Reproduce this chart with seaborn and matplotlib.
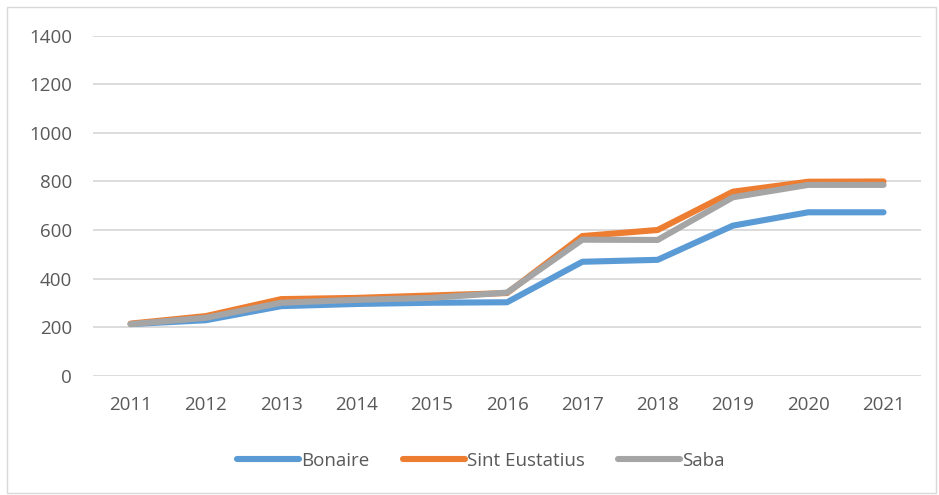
import matplotlib
matplotlib.use("Agg")
import matplotlib.pyplot as plt
import seaborn as sns
import pandas as pd
from matplotlib.patches import Rectangle
from matplotlib.lines import Line2D

years = [2011, 2012, 2013, 2014, 2015, 2016, 2017, 2018, 2019, 2020, 2021]
bonaire = [212, 228, 286, 295, 300, 302, 469, 477, 618, 673, 673]
sint_eustatius = [214, 245, 315, 320, 330, 340, 575, 600, 758, 799, 800]
saba = [212, 238, 300, 312, 320, 342, 560, 559, 735, 786, 786]
series_names = ["Bonaire", "Sint Eustatius", "Saba"]
colors = ["#5B9BD5", "#ED7D31", "#A5A5A5"]
yticks = [0, 200, 400, 600, 800, 1000, 1200, 1400]

df = pd.DataFrame({
    "year": years * 3,
    "value": bonaire + sint_eustatius + saba,
    "series": [series_names[0]] * len(years) + [series_names[1]] * len(years) + [series_names[2]] * len(years),
})

sns.set_theme(style="white")
plt.rcParams["font.family"] = ["Open Sans", "DejaVu Sans"]
text_color = "#595959"

fig = plt.figure(figsize=(9.39, 4.95), dpi=100)
ax = fig.add_axes([0.099, 0.2414, 0.882, 0.6859])

sns.lineplot(data=df, x="year", y="value", hue="series", hue_order=series_names,
             palette=colors, linewidth=4.4, ax=ax, legend=False,
             solid_capstyle="round", solid_joinstyle="round")

ax.set_xlim(years[0] - 0.5, years[-1] + 0.5)
ax.set_ylim(0, 1400)
ax.set_yticks(yticks)
ax.set_xticks(years)
ax.set_xticklabels([str(y) for y in years])
ax.set_xlabel("")
ax.set_ylabel("")
ax.grid(axis="y", color="#D9D9D9", linewidth=1.3)
ax.set_axisbelow(True)
for s in ax.spines.values():
    s.set_visible(False)
ax.tick_params(axis="both", length=0, labelsize=13.5, colors=text_color)
ax.tick_params(axis="x", pad=15)
ax.tick_params(axis="y", pad=15)

handles = [Line2D([0], [0], color=c, linewidth=4.4, solid_capstyle="round") for c in colors]
leg = fig.legend(handles, series_names, loc="center", bbox_to_anchor=(0.512, 0.069),
                 ncol=3, frameon=False, fontsize=13.5, handlelength=3.3,
                 handletextpad=0.1, columnspacing=1.8)
for t in leg.get_texts():
    t.set_color(text_color)

fig.patches.append(Rectangle((0.007, 0.004), 0.99, 0.982, transform=fig.transFigure,
                             fill=False, edgecolor="#D9D9D9", linewidth=1))

fig.savefig("out.png", dpi=100)
